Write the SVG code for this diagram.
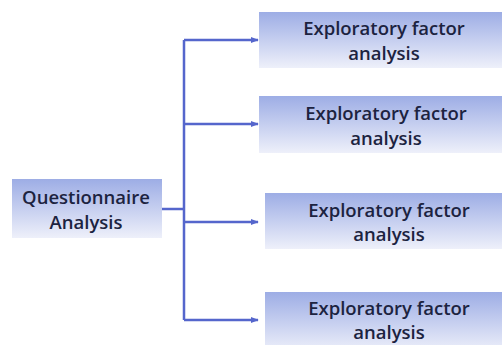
<svg xmlns="http://www.w3.org/2000/svg" width="502" height="345" viewBox="0 0 502 345">
<defs>
<linearGradient id="g" x1="0" y1="0" x2="0" y2="1">
<stop offset="0" stop-color="#9dade5"/>
<stop offset="1" stop-color="#eef0fa"/>
</linearGradient>
<marker id="ah" viewBox="0 0 10 10" refX="9" refY="5" markerWidth="8" markerHeight="8" orient="auto" markerUnits="userSpaceOnUse">
<path d="M0,1 L10,5 L0,9 Z" fill="#5566cc"/>
</marker>
<style>
.box{fill:url(#g)}
.t{font-family:"Open Sans","Liberation Sans",sans-serif;font-weight:600;font-size:18.5px;fill:#1c2340;text-anchor:middle}
.c{fill:none;stroke:#5566cc;stroke-width:2.5}
</style>
</defs>
<rect width="502" height="345" fill="#ffffff"/>
<g id="connectors">
<path class="c" d="M161,209 H184" stroke="#4c5a8a"/>
<path class="c" d="M184,40 V320"/>
<path class="c" d="M184,40 H258" marker-end="url(#ah)"/>
<path class="c" d="M184,124 H258" marker-end="url(#ah)"/>
<path class="c" d="M184,222 H258" marker-end="url(#ah)"/>
<path class="c" d="M184,320 H258" marker-end="url(#ah)"/>
</g>
<g id="questionnaire">
<rect class="box" x="12" y="179" width="150" height="59"/>
<text class="t" x="86" y="204">Questionnaire</text>
<text class="t" x="86" y="229">Analysis</text>
</g>
<g id="efa1">
<rect class="box" x="259" y="12" width="250" height="56"/>
<text class="t" x="384" y="35">Exploratory factor</text>
<text class="t" x="384" y="60">analysis</text>
</g>
<g id="efa2">
<rect class="box" x="259" y="96" width="250" height="57"/>
<text class="t" x="386" y="120">Exploratory factor</text>
<text class="t" x="386" y="145">analysis</text>
</g>
<g id="efa3">
<rect class="box" x="265" y="193" width="250" height="56"/>
<text class="t" x="389" y="217">Exploratory factor</text>
<text class="t" x="389" y="241">analysis</text>
</g>
<g id="efa4">
<rect class="box" x="265" y="292" width="250" height="60"/>
<text class="t" x="389" y="315">Exploratory factor</text>
<text class="t" x="389" y="339">analysis</text>
</g>
</svg>
